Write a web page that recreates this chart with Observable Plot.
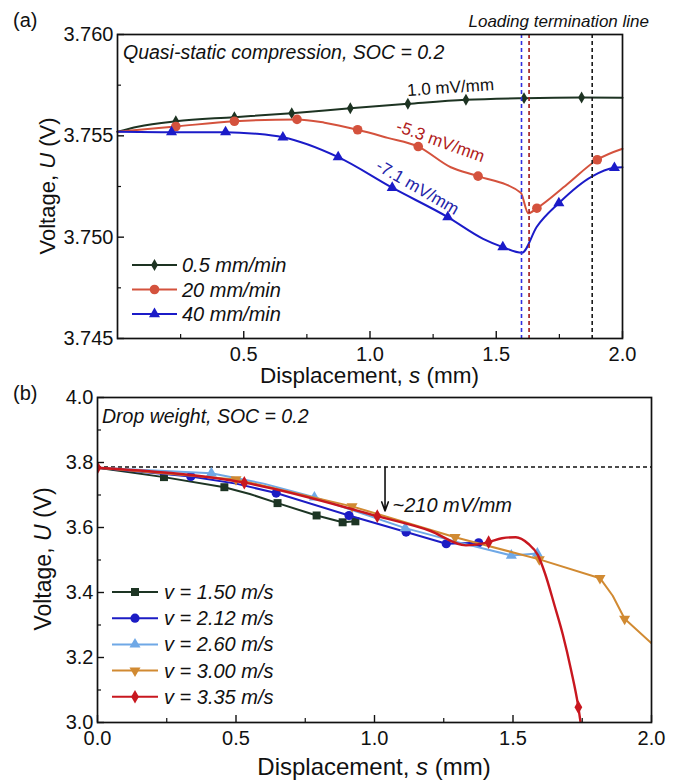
<!DOCTYPE html>
<html>
<head>
<meta charset="utf-8">
<script src="https://cdn.jsdelivr.net/npm/d3@7"></script>
<script src="https://cdn.jsdelivr.net/npm/@observablehq/plot@0.6"></script>
<style>
  body { margin: 0; background: #fff; }
  #wrap { width: 677px; height: 780px; overflow: hidden; background: #fff; }
  #wrap svg { display: block; }
</style>
</head>
<body>
<div id="wrap"></div>
<script>
const FONT = '"Liberation Sans", Arial, Helvetica, sans-serif';

// ---------------- Panel (a) data ----------------
const aNames = ["0.5 mm/min", "20 mm/min", "40 mm/min"];
const aColors = ["#1d3322", "#d4523d", "#1b1bc8"];

const aBlackS = [0, 0.08, 0.231, 0.463, 0.690, 0.922, 1.150, 1.380, 1.610, 1.838, 2.0];
const aBlackU = [3.7552, 3.75545, 3.75572, 3.75592, 3.75612, 3.75636, 3.75658, 3.75678, 3.75686, 3.75689, 3.75688];
const aBlackMk = [0, 0, 1, 1, 1, 1, 1, 1, 1, 1, 0];

const aRedS = [0, 0.231, 0.463, 0.711, 0.82, 0.951, 1.07, 1.191, 1.32, 1.428, 1.597, 1.627, 1.661, 1.78, 1.9, 2.0];
const aRedU = [3.7552, 3.75546, 3.75572, 3.75581, 3.75565, 3.75530, 3.7549, 3.75447, 3.75345, 3.75301, 3.75219, 3.75118, 3.75143, 3.7526, 3.75382, 3.75436];
const aRedMk = [0, 1, 1, 1, 0, 1, 0, 1, 0, 1, 0, 0, 1, 0, 1, 0];

const aBlueS = [0, 0.214, 0.428, 0.55, 0.655, 0.874, 1.088, 1.308, 1.448, 1.526, 1.602, 1.66, 1.748, 1.88, 1.968, 2.0];
const aBlueU = [3.7552, 3.75518, 3.75518, 3.7551, 3.75493, 3.75395, 3.75244, 3.75099, 3.74992, 3.74951, 3.74923, 3.7505, 3.75168, 3.7530, 3.75342, 3.75345];
const aBlueMk = [0, 1, 1, 0, 1, 1, 1, 1, 0, 1, 0, 0, 1, 0, 1, 0];

const aTermS = [1.6, 1.63, 1.88];
const aTermColors = ["#2f2fe0", "#a01818", "#1a1a1a"];

const aNoteText = ["1.0 mV/mm", "-5.3 mV/mm", "-7.1 mV/mm"];
const aNoteS = [1.319, 1.279, 1.188];
const aNoteU = [3.75738, 3.75472, 3.75245];
const aNoteAngle = [-4, 20, 30];
const aNoteColors = ["#111111", "#b02020", "#2424a8"];

const aXTicks = [0.5, 1.0, 1.5, 2.0];
const aXMinor = [0.25, 0.75, 1.25, 1.75];
const aYTicks = [3.745, 3.750, 3.755, 3.760];
const aYMinor = [3.7475, 3.7525, 3.7575];

// ---------------- Panel (b) data ----------------
const bNames = ["v = 1.50 m/s", "v = 2.12 m/s", "v = 2.60 m/s", "v = 3.00 m/s", "v = 3.35 m/s"];
const bColors = ["#1d3524", "#1c1cc4", "#6fa8e6", "#d18a32", "#c8171f"];

const b1S = [0, 0.24, 0.458, 0.55, 0.65, 0.791, 0.885, 0.931];
const b1U = [3.784, 3.755, 3.724, 3.703, 3.675, 3.637, 3.616, 3.619];
const b1Mk = [0, 1, 1, 0, 1, 1, 1, 1];

const b2S = [0, 0.337, 0.50, 0.645, 0.908, 1.114, 1.259, 1.376];
const b2U = [3.784, 3.757, 3.735, 3.706, 3.637, 3.586, 3.550, 3.553];
const b2Mk = [0, 1, 0, 1, 1, 1, 1, 1];

const b3S = [0, 0.411, 0.60, 0.783, 1.111, 1.30, 1.494, 1.588];
const b3U = [3.784, 3.767, 3.735, 3.693, 3.598, 3.555, 3.514, 3.520];
const b3Mk = [0, 1, 0, 1, 1, 0, 1, 1];

const b4S = [0, 0.50, 0.919, 1.291, 1.595, 1.814, 1.86, 1.903, 2.0];
const b4U = [3.784, 3.748, 3.665, 3.570, 3.502, 3.444, 3.39, 3.319, 3.244];
const b4Mk = [0, 1, 1, 1, 1, 1, 0, 1, 0];

const b5S = [0, 0.53, 1.01, 1.2, 1.33, 1.412, 1.46, 1.51, 1.555, 1.59, 1.615, 1.65, 1.68, 1.71, 1.736, 1.744];
const b5U = [3.784, 3.738, 3.635, 3.59, 3.545, 3.555, 3.567, 3.570, 3.55, 3.515, 3.46, 3.36, 3.27, 3.16, 3.047, 3.0];
const b5Mk = [1, 1, 1, 0, 0, 1, 0, 0, 0, 0, 0, 0, 0, 0, 1, 0];

const bRefU = [3.786];
const bArrowS = [1.038];
const bArrowU1 = [3.785];
const bArrowU2 = [3.651];
const bNoteText = ["~210 mV/mm"];
const bNoteS = [1.065];
const bNoteU = [3.668];

const bXTicks = [0, 0.5, 1.0, 1.5, 2.0];
const bXMinor = [0.25, 0.75, 1.25, 1.75];
const bYTicks = [3.0, 3.2, 3.4, 3.6, 3.8, 4.0];
const bYMinor = [3.1, 3.3, 3.5, 3.7, 3.9];

// ---------------- helpers ----------------
const triangleDown = {
  draw(context, size) {
    const y = -Math.sqrt(size / (Math.sqrt(3) * 3));
    context.moveTo(0, -y * 2);
    context.lineTo(-Math.sqrt(3) * y, y);
    context.lineTo(Math.sqrt(3) * y, y);
    context.closePath();
  }
};
const symbolMap = {
  diamond: d3.symbolDiamond, circle: d3.symbolCircle, triangle: d3.symbolTriangle,
  square: d3.symbolSquare, triDown: triangleDown
};
function plotSymbol(name) { return name === "triDown" ? triangleDown : name; }

function makeRows(S, U, M) { return S.map((s, i) => ({s, u: U[i], m: M[i]})); }

function axesMarks(xt, xm, yt, ym, yfmt) {
  return [
    Plot.axisX(xt, {tickSize: -7, tickPadding: 15, tickFormat: ".1f", label: null, fontSize: 20, strokeWidth: 1.4}),
    Plot.axisX(xm, {tickSize: -4, fill: "none", label: null, strokeWidth: 1.2}),
    Plot.axisY(yt, {tickSize: -7, tickPadding: 11, tickFormat: yfmt, label: null, fontSize: 20, strokeWidth: 1.4}),
    Plot.axisY(ym, {tickSize: -4, fill: "none", label: null, strokeWidth: 1.2}),
    Plot.frame({stroke: "#111", strokeWidth: 1.7})
  ];
}

function addText(svg, x, y, parts, o) {
  const t = d3.select(svg).append("text")
    .attr("x", x).attr("y", y)
    .attr("font-family", FONT).attr("font-size", o.size)
    .attr("fill", o.fill || "#111")
    .attr("text-anchor", o.anchor || "start")
    .attr("dominant-baseline", "central");
  if (o.rotate) t.attr("transform", `rotate(${o.rotate},${x},${y})`);
  if (o.italic) t.attr("font-style", "italic");
  parts.forEach(p => {
    const ts = t.append("tspan").text(typeof p === "string" ? p : p.t);
    if (typeof p !== "string" && p.i) ts.attr("font-style", "italic");
  });
}

function addLegend(svg, entries, x0, x1, y0, dy, textX) {
  const g = d3.select(svg).append("g");
  entries.forEach((e, i) => {
    const y = y0 + i * dy;
    g.append("line").attr("x1", x0).attr("x2", x1).attr("y1", y).attr("y2", y)
      .attr("stroke", e.color).attr("stroke-width", 2);
    g.append("path").attr("d", d3.symbol(symbolMap[e.symbol], Math.PI * e.r * e.r)())
      .attr("transform", `translate(${(x0 + x1) / 2},${y})`).attr("fill", e.color);
    g.append("text").attr("x", textX).attr("y", y).attr("dominant-baseline", "central")
      .attr("text-anchor", "start")
      .attr("font-family", FONT).attr("font-size", 20).attr("font-style", "italic")
      .attr("fill", "#111").text(e.name);
  });
}

const wrap = document.getElementById("wrap");
const baseStyle = {fontFamily: FONT, fontSize: "20px", color: "#111", background: "white", overflow: "visible"};

// ---------------- Panel (a) ----------------
const seriesA = [
  {name: aNames[0], color: aColors[0], symbol: "diamond", r: 3.6, rows: makeRows(aBlackS, aBlackU, aBlackMk)},
  {name: aNames[1], color: aColors[1], symbol: "circle", r: 4.8, rows: makeRows(aRedS, aRedU, aRedMk)},
  {name: aNames[2], color: aColors[2], symbol: "triangle", r: 4.1, rows: makeRows(aBlueS, aBlueU, aBlueMk)}
];
const marksA = [];
seriesA.forEach(sr => {
  marksA.push(Plot.line(sr.rows, {x: "s", y: "u", stroke: sr.color, strokeWidth: 2, curve: "monotone-x"}));
  marksA.push(Plot.dot(sr.rows, {x: "s", y: "u", filter: d => d.m === 1, symbol: plotSymbol(sr.symbol), r: sr.r, fill: sr.color, stroke: "none"}));
});
aTermS.forEach((s, i) => marksA.push(Plot.ruleX([s], {x: d => d, stroke: aTermColors[i], strokeWidth: 1.6, strokeDasharray: "4,3"})));
aNoteText.forEach((t, i) => marksA.push(Plot.text([t], {
  x: () => aNoteS[i], y: () => aNoteU[i], text: d => d, rotate: aNoteAngle[i],
  fill: aNoteColors[i], fontSize: 17, fontFamily: FONT
})));

const chartA = Plot.plot({
  width: 677, height: 386,
  marginTop: 34, marginBottom: 48, marginLeft: 117, marginRight: 55,
  x: {domain: [0, 2], label: null},
  y: {domain: [3.745, 3.760], label: null},
  style: baseStyle,
  marks: [...marksA, ...axesMarks(aXTicks, aXMinor, aYTicks, aYMinor, ".3f")]
});
wrap.appendChild(chartA);
addText(chartA, 13, 20, ["(a)"], {size: 20});
addText(chartA, 649, 21, ["Loading termination line"], {size: 17, anchor: "end", italic: true});
addText(chartA, 123, 52, ["Quasi-static compression, SOC = 0.2"], {size: 19.5, italic: true});
addText(chartA, 369.5, 375, ["Displacement, ", {t: "s", i: true}, " (mm)"], {size: 22.5, anchor: "middle"});
addText(chartA, 47, 186, ["Voltage, ", {t: "U", i: true}, " (V)"], {size: 22, anchor: "middle", rotate: -90});
addLegend(chartA, seriesA, 132, 177, 265, 24.5, 182);

// ---------------- Panel (b) ----------------
const symB = ["square", "circle", "triangle", "triDown", "diamond"];
const rB = [4.5, 4.6, 4.1, 4.1, 4.1];
const rowsB = [makeRows(b1S, b1U, b1Mk), makeRows(b2S, b2U, b2Mk), makeRows(b3S, b3U, b3Mk), makeRows(b4S, b4U, b4Mk), makeRows(b5S, b5U, b5Mk)];
const seriesB = bNames.map((n, i) => ({name: n, color: bColors[i], symbol: symB[i], r: rB[i], rows: rowsB[i]}));

const marksB = [
  Plot.ruleY(bRefU, {stroke: "#111", strokeWidth: 1.6, strokeDasharray: "4,3"})
];
seriesB.forEach((sr, i) => {
  marksB.push(Plot.line(sr.rows, {x: "s", y: "u", stroke: sr.color, strokeWidth: i === 4 ? 2.4 : 2, curve: i === 4 ? "monotone-x" : "linear", clip: true}));
  marksB.push(Plot.dot(sr.rows, {x: "s", y: "u", filter: d => d.m === 1, symbol: plotSymbol(sr.symbol), r: sr.r, fill: sr.color, stroke: "none", clip: true}));
});
marksB.push(Plot.arrow(bArrowS, {
  x1: d => d, x2: d => d, y1: (d, i) => bArrowU1[i], y2: (d, i) => bArrowU2[i],
  stroke: "#111", strokeWidth: 1.6, headLength: 9, headAngle: 40
}));
marksB.push(Plot.text(bNoteText, {
  x: (d, i) => bNoteS[i], y: (d, i) => bNoteU[i], text: d => d, textAnchor: "start",
  fontSize: 20, fontStyle: "italic", fill: "#111", fontFamily: FONT
}));

const chartB = Plot.plot({
  width: 677, height: 394,
  marginTop: 11, marginBottom: 58, marginLeft: 97, marginRight: 26,
  x: {domain: [0, 2], label: null},
  y: {domain: [3.0, 4.0], label: null},
  style: baseStyle,
  marks: [...marksB, ...axesMarks(bXTicks, bXMinor, bYTicks, bYMinor, ".1f")]
});
wrap.appendChild(chartB);
addText(chartB, 13, 7, ["(b)"], {size: 20});
addText(chartB, 102, 30, ["Drop weight, SOC = 0.2"], {size: 19.5, italic: true});
addText(chartB, 374, 380, ["Displacement, ", {t: "s", i: true}, " (mm)"], {size: 24, anchor: "middle"});
addText(chartB, 43, 173, ["Voltage, ", {t: "U", i: true}, " (V)"], {size: 23, anchor: "middle", rotate: -90});
addLegend(chartB, seriesB, 112, 158, 206, 26.2, 164);
</script>
</body>
</html>
